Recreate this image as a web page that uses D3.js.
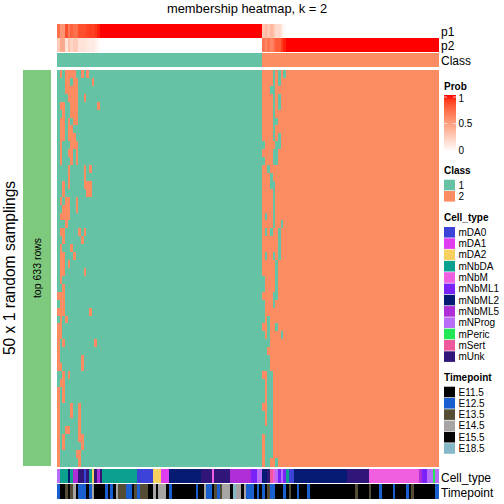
<!DOCTYPE html>
<html><head><meta charset="utf-8">
<script src="https://cdn.jsdelivr.net/npm/d3@7"></script>
<style>html,body{margin:0;padding:0;background:#fff}svg{display:block}text{font-family:"Liberation Sans",Arial,sans-serif;fill:#000}</style>
</head><body><div id="chart"></div>
<script>
// ---- data ----
const nColumns = 143;
const nClass1 = 77;
const rowCount = 50;
const classLevels = ["1","2"];
const classColors = ["#66C2A5","#FC8D62"];
// p1 for the columns where it differs from the plateau (1 up to class boundary, 0 after)
const p1Start = [0.72,0.55,0.55,0.85,0.68,0.78,0.72,0.72,0.85,0.85,0.85,0.88,0.9,0.88,0.92,0.97];
const p1Boundary = [0.3,0.38,0.3,0.38,0.3,0.2,0.2,0.1,0.03];
// per-row columns whose call differs from their column class
const flips = [
 [1,3,4,5,6,9,11,81,83,85],
 [3,4,6,7,13,81,83],
 [3,4,5,6,7,80,81],
 [4,5,6,7,10,81,83],
 [1,2,5,6,7,15,81,83],
 [2,5,6,7,81],
 [1,2,4,6,7,81,82],
 [1,2,4,5,81],
 [1,2,4,5,6,81,83],
 [1,5,6,7,77,82,83],
 [1,4,5,7,81,82],
 [1,5,7,77,81,82],
 [4,10,12,79],
 [4,10,80],
 [2,4,10,11,12,80,81],
 [2,11,12,81],
 [1,3,4,7,81],
 [2,3,4,7,81],
 [1,2,3,4,78,81],
 [3,81,84],
 [1,2,8,10,78,80,83],
 [2,9,83],
 [1,5,83],
 [1,2,6,78,81,83],
 [1,2,4,82],
 [1,2,10,82],
 [1,77,82],
 [2,77,82],
 [0,1,2,81,82],
 [1,2,77,81],
 [0,1,2,12,77],
 [1,3,77,79],
 [0,1,79,82],
 [0,1,77,79,84],
 [0,2,14,77,78,79],
 [0,77,78],
 [0,9,77,78,79],
 [0,1,9,77,78,79],
 [2,4,79,80],
 [1,2,77,79,80],
 [0,2,77,79,80],
 [0,2,77,79,80],
 [0,5,8,79,80],
 [0,5,8,77,79,80],
 [0,8,77,79,80],
 [0,3,4,8,77,78,79,80],
 [0,2,8,9,78,79,80],
 [0,2,9,78,79,80],
 [0,7,8,78,79,80],
 [0,8,78,79,82]
];
const cellTypeLevels = ["mDA0","mDA1","mDA2","mNbDA","mNbM","mNbML1","mNbML2","mNbML5","mNProg","mPeric","mSert","mUnk"];
const cellTypeColors = ["#3B44D6","#E03CF0","#F8D060","#0CA08F","#F05FDF","#7B22F8","#051A73","#B02ED8","#B86CF8","#22E855","#F0589C","#2F1678"];
const cellTypeRuns = [["mNProg",1],["mNbDA",3],["mNbML2",1],["mNbDA",1],["mNbML5",2],["mUnk",2],["mDA0",1],["mUnk",1],["mNbDA",1],["mDA2",1],["mUnk",1],["mNbML5",1],["mUnk",1],["mNbDA",13],["mDA0",6],["mDA2",3],["mDA1",3],["mNbML2",12],["mUnk",4],["mNbM",1],["mUnk",6],["mNbML5",8],["mNbML1",2],["mNProg",2],["mNbML2",2],["mUnk",1],["mSert",1],["mNbM",1],["mNProg",1],["mNbML1",1],["mNProg",1],["mNbML1",1],["mNbDA",1],["mDA0",2],["mNbML2",20],["mUnk",8],["mNbM",19],["mNbML5",1],["mNbML1",2],["mNProg",2],["mPeric",1],["mNProg",1]];
const timeLevels = ["E11.5","E12.5","E13.5","E14.5","E15.5","E18.5"];
const timeColors = ["#000000","#1A5FD0","#544C34","#A8A4A4","#050505","#84B8C8"];
const timeRuns = [["E12.5",1],["E11.5",2],["E13.5",1],["E15.5",1],["E13.5",1],["E14.5",1],["E11.5",1],["E12.5",3],["E15.5",1],["E12.5",1],["E14.5",1],["E11.5",4],["E12.5",1],["E15.5",1],["E12.5",1],["E11.5",1],["E14.5",1],["E13.5",3],["E12.5",2],["E15.5",1],["E13.5",1],["E12.5",1],["E13.5",3],["E11.5",2],["E14.5",1],["E15.5",1],["E14.5",3],["E11.5",1],["E12.5",1],["E11.5",9],["E12.5",1],["E15.5",2],["E14.5",1],["E12.5",2],["E11.5",1],["E13.5",1],["E12.5",1],["E13.5",1],["E14.5",3],["E15.5",1],["E18.5",1],["E14.5",2],["E15.5",1],["E14.5",1],["E12.5",3],["E11.5",1],["E12.5",1],["E11.5",1],["E12.5",1],["E11.5",1],["E13.5",1],["E12.5",2],["E11.5",3],["E12.5",1],["E11.5",1],["E13.5",1],["E11.5",2],["E12.5",1],["E11.5",3],["E12.5",1],["E11.5",17],["E13.5",1],["E11.5",4],["E13.5",1],["E11.5",3],["E12.5",1],["E11.5",4],["E12.5",1],["E11.5",4],["E12.5",1],["E11.5",1],["E13.5",1],["E11.5",8],["E12.5",1]];
const probTicks = [1,0.5,0];

// ---- layout ----
const W=504,H=504;
const svg=d3.select("#chart").append("svg").attr("width",W).attr("height",H).attr("viewBox",[0,0,W,H]);
const cols=d3.range(nColumns), rows=d3.range(rowCount);
const x=d3.scaleBand().domain(cols).range([57,438]);
const y=d3.scaleBand().domain(rows).range([70,466]);
const classColor=d3.scaleOrdinal(classLevels,classColors);
const probColor=d3.scaleLinear().domain([0,1]).range(["#ffffff","#ff0000"]).interpolate(d3.interpolateLab);
const ctColor=d3.scaleOrdinal(cellTypeLevels,cellTypeColors);
const tpColor=d3.scaleOrdinal(timeLevels,timeColors);
const expand=r=>r.flatMap(([k,n])=>Array(n).fill(k));
const p1=cols.map(i=>i<p1Start.length?p1Start[i]:i<nClass1?1:(i-nClass1)<p1Boundary.length?p1Boundary[i-nClass1]:0);
const p2=p1.map(v=>1-v);
const colClass=cols.map(i=>i<nClass1?0:1);
const ct=expand(cellTypeRuns), tp=expand(timeRuns);

function strip(vals,top,h,color){
  svg.append("g").attr("shape-rendering","crispEdges").selectAll("rect").data(vals).join("rect")
   .attr("x",(d,i)=>x(i)).attr("width",x.bandwidth()+.5).attr("y",top).attr("height",h)
   .attr("fill",d=>color(d));
}
strip(p1,24,14,probColor);
strip(p2,38,14,probColor);
strip(colClass.map(c=>classLevels[c]),53,14,classColor);
strip(ct.slice(0,nColumns),469,14,ctColor);
strip(tp.slice(0,nColumns),484,15,tpColor);

const cells=rows.flatMap(r=>cols.map(c=>({r,c,v:flips[r].includes(c)?1-colClass[c]:colClass[c]})));
svg.append("g").attr("shape-rendering","crispEdges").selectAll("rect").data(cells).join("rect")
 .attr("x",d=>x(d.c)).attr("y",d=>y(d.r)).attr("width",x.bandwidth()+.5).attr("height",y.bandwidth()+.5)
 .attr("fill",d=>classColors[d.v]);

// left bar
svg.append("rect").attr("x",23).attr("y",70).attr("width",28).attr("height",396).attr("fill","#7FC97F");
svg.append("text").attr("transform","translate(40.5,268) rotate(-90)").attr("text-anchor","middle").attr("font-size",10.5).text("top 633 rows");
svg.append("text").attr("transform","translate(15,268) rotate(-90)").attr("text-anchor","middle").attr("font-size",15.6).text("50 x 1 random samplings");

// title & annotation names
svg.append("text").attr("x",247).attr("y",13).attr("text-anchor","middle").attr("font-size",12.9).text("membership heatmap, k = 2");
[["p1",31],["p2",45],["Class",60],["Cell_type",477],["Timepoint",492]].forEach(([t,yy])=>
  svg.append("text").attr("x",441).attr("y",yy+4.5).attr("font-size",12).text(t));

// legends
const lab=(t,yy,bold)=>svg.append("text").attr("x",bold?444:458.5).attr("y",yy+3.5).attr("font-size",bold?10:10).attr("font-weight",bold?"bold":"normal").text(t);
lab("Prob",86,true);
const probScale=d3.scaleLinear().domain([0,1]).range([152,95]);
const defs=svg.append("defs").append("linearGradient").attr("id","pg").attr("x1",0).attr("x2",0).attr("y1",1).attr("y2",0);
d3.range(0,1.01,.1).forEach(t=>defs.append("stop").attr("offset",t).attr("stop-color",probColor(t)));
svg.append("rect").attr("x",444).attr("y",probScale(1)).attr("width",12).attr("height",probScale(0)-probScale(1)).attr("fill","url(#pg)");
probTicks.forEach(t=>{
  const yy=Math.min(Math.max(probScale(t),98),150);
  lab(String(t),yy,false);
  if(t>0){[[444,447],[453,456]].forEach(([a,b])=>svg.append("line").attr("x1",a).attr("x2",b).attr("y1",probScale(t)+(t==1?2:0)).attr("y2",probScale(t)+(t==1?2:0)).attr("stroke","#fff").attr("stroke-width",.7));}
});
function legend(title,titleY,firstY,levels,color){
  lab(title,titleY,true);
  const s=d3.scalePoint().domain(levels).range([firstY,firstY+11.3*(levels.length-1)]);
  levels.forEach(l=>{
    svg.append("rect").attr("x",444).attr("y",s(l)-5.3).attr("width",11).attr("height",10.6).attr("fill",color(l));
    lab(l,s(l),false);
  });
}
legend("Class",170,185,classLevels,classColor);
legend("Cell_type",217,232.3,cellTypeLevels,ctColor);
legend("Timepoint",377,392,timeLevels,tpColor);
</script></body></html>
